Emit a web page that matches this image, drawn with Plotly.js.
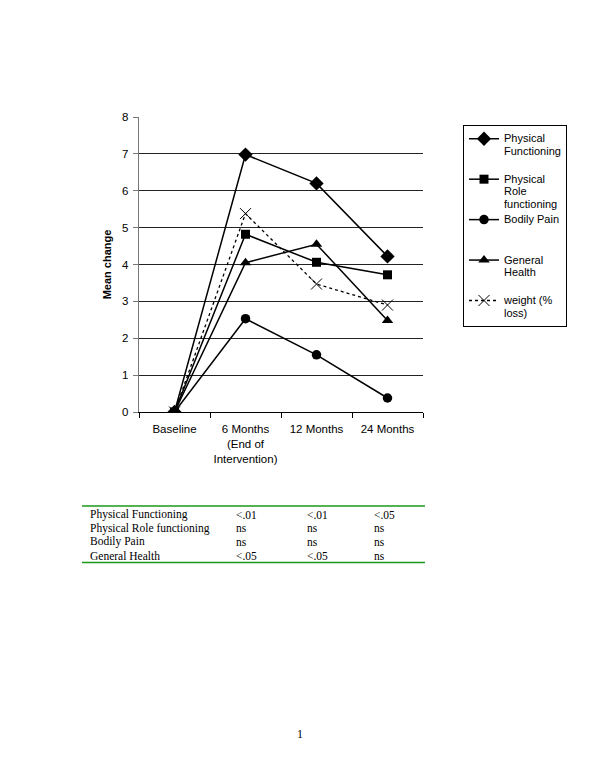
<!DOCTYPE html>
<html>
<head>
<meta charset="utf-8">
<script src="https://cdn.plot.ly/plotly-3.0.1.min.js"></script>
<style>html,body{margin:0;padding:0;background:#fff;}#chart{width:600px;height:777px;}</style>
</head>
<body>
<div id="chart"></div>
<script>
var categories = ["Baseline", "6 Months<br>(End of<br>Intervention)", "12 Months", "24 Months"];
var physicalFunctioning = [0, 6.98, 6.2, 4.22];
var physicalRole = [0, 4.82, 4.06, 3.72];
var bodilyPain = [0, 2.53, 1.55, 0.38];
var generalHealth = [0, 4.05, 4.55, 2.48];
var weightLoss = [0, 5.38, 3.47, 2.9];
var yTicks = [0, 1, 2, 3, 4, 5, 6, 7, 8];
var gridTicks = [1, 2, 3, 4, 5, 6, 7];

var tableRows = ["Physical Functioning", "Physical Role functioning", "Bodily Pain", "General Health"];
var tableCol1 = ["<.01", "ns", "ns", "<.05"];
var tableCol2 = ["<.01", "ns", "ns", "<.05"];
var tableCol3 = ["<.05", "ns", "ns", "ns"];
var pageNumber = "1";

var W = 600, H = 777;
var L = 139, R = 423, T = 117, B = 412;
var pw = R - L, ph = B - T;
function px(x) { return (x - L) / pw; }
function py(y) { return (B - y) / ph; }

function lg(lines, pad) {
  var s = lines.map(function (t) { return '<span style="font-size:11px">' + t + '</span>'; }).join("<br>");
  for (var k = 0; k < pad; k++) s += "<br> ";
  return s;
}
function tr(name, y, sym, size, dash) {
  return {
    type: "scatter", mode: "lines+markers", name: name, x: categories, y: y,
    line: {color: "#000", width: dash ? 1.3 : 1.5, dash: dash || "solid"},
    marker: {symbol: sym, size: size, color: "#000", line: {color: "#000", width: sym === "x-thin-open" ? 1 : 0}},
    legendgroup: name
  };
}
var data = [
  tr(lg(["Physical", "Functioning"], 1), physicalFunctioning, "diamond", 11),
  tr(lg(["Physical", "Role", "functioning"], 0), physicalRole, "square", 9),
  tr(lg(["Bodily Pain"], 2), bodilyPain, "circle", 9.5),
  tr(lg(["General", "Health"], 1), generalHealth, "triangle-up", 10),
  tr(lg(["weight (%", "loss)"], 0), weightLoss, "x-thin-open", 11, "dot")
];

var annotations = [];
var shapes = [];
var tfont = {family: "Liberation Serif, Times New Roman, serif", size: 11.5, color: "#000"};
var rowY = [514.5, 528, 541.5, 555.5];
var colX = [88, 234, 305, 372];
for (var i = 0; i < tableRows.length; i++) {
  var vals = [tableRows[i], tableCol1[i], tableCol2[i], tableCol3[i]];
  for (var j = 0; j < 4; j++) {
    annotations.push({xref: "paper", yref: "paper", x: px(colX[j]), y: py(rowY[i]),
      xanchor: "left", yanchor: "middle", text: vals[j], showarrow: false, font: tfont});
  }
}
[506, 562.5].forEach(function (yy) {
  shapes.push({type: "line", xref: "paper", yref: "paper", x0: px(82), x1: px(425), y0: py(yy), y1: py(yy),
    line: {color: "#1a9a1a", width: 1.5}});
});
annotations.push({xref: "paper", yref: "paper", x: px(300), y: py(734), xanchor: "center", yanchor: "middle",
  text: pageNumber, showarrow: false, font: {family: "Liberation Serif, Times New Roman, serif", size: 12, color: "#000"}});

var layout = {
  width: W, height: H,
  margin: {l: L, r: W - R, t: T, b: H - B, pad: 0},
  paper_bgcolor: "#fff", plot_bgcolor: "rgba(0,0,0,0)",
  font: {family: "Liberation Sans, Arial, sans-serif", size: 11, color: "#000"},
  showlegend: true,
  xaxis: {
    type: "category", range: [-0.5, 3.5], tickson: "boundaries", ticks: "outside", ticklen: 5,
    tickcolor: "#000", showline: true, linecolor: "#000", linewidth: 1, showgrid: false,
    tickfont: {size: 11.5}, tickangle: 0, ticklabelstandoff: 6, fixedrange: true
  },
  yaxis: {
    range: [0, 8], tickvals: yTicks, ticks: "outside", ticklen: 5, tickcolor: "#777",
    showline: true, linecolor: "#777", linewidth: 1.2, showgrid: false, zeroline: false,
    tickfont: {size: 11.5}, ticklabelstandoff: 2,
    title: {text: "<b>Mean change</b>", font: {size: 11}, standoff: 8}
  },
  yaxis2: {
    overlaying: "y", range: [0, 8], tickvals: gridTicks, showticklabels: false, ticks: "",
    showgrid: true, gridcolor: "#222", gridwidth: 1, zeroline: false, showline: false
  },
  legend: {
    x: px(463), y: py(125), xanchor: "left", yanchor: "top",
    bordercolor: "#000", borderwidth: 1, bgcolor: "#fff",
    font: {size: 9.6}, valign: "top", tracegroupgap: 0, itemwidth: 30,
    traceorder: "normal"
  },
  annotations: annotations,
  shapes: shapes
};
data.unshift({type: "scatter", x: [categories[0]], y: [null], yaxis: "y2", showlegend: false, hoverinfo: "skip"});

Plotly.newPlot("chart", data, layout, {staticPlot: true});
</script>
</body>
</html>
